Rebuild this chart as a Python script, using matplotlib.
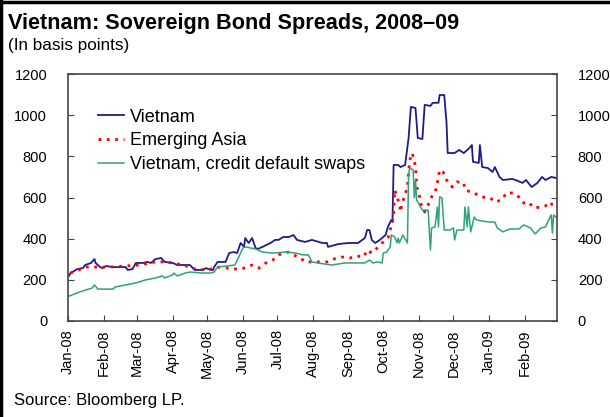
import matplotlib
matplotlib.use("Agg")
import matplotlib.pyplot as plt
import matplotlib.dates as mdates
from matplotlib.lines import Line2D
import pandas as pd

plt.rcParams['font.family'] = ['Liberation Sans', 'DejaVu Sans']

# Vietnam sovereign bond spread (basis points)
vietnam_dates = [
    "2008-01-02", "2008-01-03", "2008-01-09", "2008-01-14", "2008-01-16", "2008-01-21",
    "2008-01-24", "2008-01-25", "2008-01-29", "2008-01-31", "2008-02-03", "2008-02-09",
    "2008-02-20", "2008-02-22", "2008-02-26", "2008-02-29", "2008-03-06", "2008-03-10",
    "2008-03-13", "2008-03-17", "2008-03-22", "2008-03-25", "2008-04-01", "2008-04-05",
    "2008-04-16", "2008-04-20", "2008-04-27", "2008-04-30", "2008-05-04", "2008-05-06",
    "2008-05-07", "2008-05-10", "2008-05-17", "2008-05-20", "2008-05-24", "2008-05-27",
    "2008-05-30", "2008-06-02", "2008-06-03", "2008-06-06", "2008-06-09", "2008-06-12",
    "2008-06-14", "2008-06-18", "2008-06-25", "2008-06-29", "2008-07-02", "2008-07-06",
    "2008-07-11", "2008-07-15", "2008-07-18", "2008-07-25", "2008-07-31", "2008-08-09",
    "2008-08-13", "2008-08-14", "2008-08-23", "2008-09-01", "2008-09-09", "2008-09-15",
    "2008-09-17", "2008-09-19", "2008-09-21", "2008-09-24", "2008-09-28", "2008-10-03",
    "2008-10-05", "2008-10-08", "2008-10-09", "2008-10-10", "2008-10-14", "2008-10-16",
    "2008-10-20", "2008-10-23", "2008-10-25", "2008-10-29", "2008-10-31", "2008-11-04",
    "2008-11-06", "2008-11-11", "2008-11-13", "2008-11-18", "2008-11-19", "2008-11-23",
    "2008-11-25", "2008-11-26", "2008-12-02", "2008-12-06", "2008-12-10", "2008-12-15",
    "2008-12-17", "2008-12-18", "2008-12-23", "2008-12-24", "2008-12-26", "2008-12-31",
    "2009-01-04", "2009-01-06", "2009-01-10", "2009-01-13", "2009-01-21", "2009-01-24",
    "2009-01-30", "2009-02-02", "2009-02-07", "2009-02-12", "2009-02-16", "2009-02-19",
    "2009-02-24", "2009-02-28",
]
vietnam = [
    220, 232, 252, 257, 272, 282,
    301, 282, 262, 257, 267, 262,
    262, 248, 252, 282, 282, 287,
    282, 301, 306, 287, 282, 272,
    272, 248, 248, 257, 248, 248,
    262, 287, 287, 330, 335, 330,
    379, 360, 403, 379, 403, 355,
    350, 360, 379, 394, 394, 408,
    408, 418, 394, 384, 394, 379,
    379, 360, 374, 379, 379, 403,
    442, 442, 394, 379, 394, 418,
    457, 491, 481, 758, 758, 748,
    758, 889, 1040, 1035, 889, 884,
    1050, 1045, 1060, 1060, 1098, 1098,
    962, 816, 816, 831, 816, 841,
    855, 773, 768, 855, 748, 743,
    724, 748, 700, 685, 690, 685,
    671, 685, 651, 671, 700, 685,
    700, 695,
]

# Emerging Asia sovereign spread
asia_dates = [
    "2008-01-03", "2008-01-17", "2008-01-25", "2008-02-06", "2008-03-03", "2008-03-17",
    "2008-03-23", "2008-04-01", "2008-04-10", "2008-04-23", "2008-05-04", "2008-05-11",
    "2008-05-27", "2008-06-02", "2008-06-09", "2008-06-15", "2008-06-21", "2008-06-27",
    "2008-07-02", "2008-07-10", "2008-07-15", "2008-07-21", "2008-07-25", "2008-08-01",
    "2008-08-07", "2008-08-13", "2008-08-19", "2008-08-26", "2008-09-02", "2008-09-08",
    "2008-09-14", "2008-09-17", "2008-09-21", "2008-09-24", "2008-09-30", "2008-10-05",
    "2008-10-07", "2008-10-09", "2008-10-10", "2008-10-11", "2008-10-13", "2008-10-15",
    "2008-10-16", "2008-10-17", "2008-10-22", "2008-10-24", "2008-10-26", "2008-10-28",
    "2008-10-29", "2008-10-30", "2008-10-31", "2008-11-02", "2008-11-03", "2008-11-06",
    "2008-11-09", "2008-11-12", "2008-11-15", "2008-11-17", "2008-11-19", "2008-11-22",
    "2008-11-25", "2008-11-30", "2008-12-04", "2008-12-10", "2008-12-11", "2008-12-16",
    "2008-12-19", "2008-12-25", "2009-01-02", "2009-01-06", "2009-01-12", "2009-01-16",
    "2009-01-22", "2009-01-28", "2009-01-31", "2009-02-04", "2009-02-09", "2009-02-15",
    "2009-02-19", "2009-02-23", "2009-02-25", "2009-02-28",
]
emerging_asia = [
    233, 262, 262, 262, 272, 287,
    287, 282, 272, 248, 252, 262,
    252, 257, 272, 257, 282, 296,
    321, 335, 321, 306, 287, 287,
    287, 287, 301, 311, 306, 316,
    311, 345, 330, 345, 379, 403,
    442, 481, 525, 637, 598, 573,
    530, 564, 651, 782, 816, 782,
    743, 671, 627, 598, 564, 530,
    564, 603, 622, 671, 734, 724,
    685, 651, 676, 671, 637, 627,
    622, 603, 598, 578, 588, 622,
    622, 598, 573, 578, 549, 554,
    559, 578, 564, 559,
]

# Vietnam credit default swaps
cds_dates = [
    "2008-01-02", "2008-01-11", "2008-01-16", "2008-01-22", "2008-01-24", "2008-01-27",
    "2008-02-09", "2008-02-11", "2008-02-20", "2008-02-29", "2008-03-08", "2008-03-17",
    "2008-03-23", "2008-03-25", "2008-04-01", "2008-04-02", "2008-04-05", "2008-04-12",
    "2008-04-16", "2008-04-27", "2008-05-04", "2008-05-07", "2008-05-10", "2008-05-25",
    "2008-05-28", "2008-06-01", "2008-06-03", "2008-06-12", "2008-06-18", "2008-06-27",
    "2008-07-08", "2008-07-17", "2008-07-23", "2008-07-28", "2008-07-31", "2008-08-05",
    "2008-08-17", "2008-08-29", "2008-09-09", "2008-09-15", "2008-09-19", "2008-09-22",
    "2008-09-26", "2008-09-30", "2008-10-01", "2008-10-04", "2008-10-07", "2008-10-08",
    "2008-10-11", "2008-10-13", "2008-10-14", "2008-10-15", "2008-10-18", "2008-10-22",
    "2008-10-23", "2008-10-24", "2008-10-27", "2008-10-28", "2008-10-29", "2008-10-30",
    "2008-11-04", "2008-11-09", "2008-11-11", "2008-11-12", "2008-11-15", "2008-11-17",
    "2008-11-18", "2008-11-19", "2008-11-21", "2008-11-23", "2008-11-28", "2008-12-01",
    "2008-12-02", "2008-12-04", "2008-12-10", "2008-12-11", "2008-12-13", "2008-12-14",
    "2008-12-16", "2008-12-19", "2008-12-21", "2008-12-31", "2009-01-06", "2009-01-08",
    "2009-01-13", "2009-01-19", "2009-01-27", "2009-01-31", "2009-02-06", "2009-02-10",
    "2009-02-15", "2009-02-19", "2009-02-23", "2009-02-24", "2009-02-25", "2009-02-26",
    "2009-02-28",
]
vietnam_cds = [
    121, 141, 150, 160, 175, 155,
    155, 165, 175, 185, 199, 209,
    219, 209, 224, 233, 219, 233,
    238, 233, 233, 238, 262, 272,
    306, 355, 360, 350, 335, 330,
    335, 330, 321, 321, 287, 282,
    272, 282, 282, 282, 296, 282,
    287, 282, 330, 335, 360, 418,
    408, 379, 403, 379, 418, 379,
    710, 743, 734, 598, 685, 588,
    539, 539, 345, 452, 457, 554,
    457, 603, 598, 442, 442, 452,
    394, 442, 442, 554, 457, 554,
    433, 505, 491, 481, 481, 452,
    433, 447, 447, 467, 452, 423,
    452, 457, 505, 515, 428, 515,
    505,
]

month_ticks = pd.date_range("2008-01-01", "2009-02-01", freq="MS")
y_ticks = [0, 200, 400, 600, 800, 1000, 1200]

fig = plt.figure(figsize=(6.10, 4.17), dpi=100)
ax = fig.add_axes([68 / 610, 1 - 321 / 417, 489 / 610, 247 / 417])

ax.plot(pd.to_datetime(vietnam_dates), vietnam, color="#1c1c8a", lw=1.3,
        label="Vietnam")
ax.plot(pd.to_datetime(asia_dates), emerging_asia, color="#ff0000", lw=2.0,
        linestyle=(0, (1, 2)), label="Emerging Asia")
ax.plot(pd.to_datetime(cds_dates), vietnam_cds, color="#2fa27a", lw=1.1,
        label="Vietnam, credit default swaps")

ax.set_xlim(pd.Timestamp("2008-01-01"), pd.Timestamp("2009-03-01"))
ax.set_ylim(0, 1200)
ax.set_xticks(month_ticks)
ax.xaxis.set_major_formatter(mdates.DateFormatter("%b-%y"))
ax.set_yticks(y_ticks)
ax.tick_params(axis="x", direction="in", length=4, labelsize=10.5, rotation=90,
               color="#444444", pad=6)
ax.tick_params(axis="y", direction="in", length=4, labelsize=10.5, left=True,
               right=True, labelleft=True, labelright=True, color="#444444",
               pad=15)
for spine in ax.spines.values():
    spine.set_color("#444444")
    spine.set_linewidth(1.2)

leg = ax.legend(loc="upper left", bbox_to_anchor=(0.062, 0.86), frameon=False,
                fontsize=13, handlelength=1.45, handletextpad=0.3,
                labelspacing=0.37, borderpad=0, borderaxespad=0)

fig.text(8 / 610, 1 - 29 / 417, "Vietnam: Sovereign Bond Spreads, 2008\u201309",
         fontsize=15.6, fontweight="bold", va="baseline", ha="left")
fig.text(8 / 610, 1 - 50 / 417, "(In basis points)", fontsize=12.3,
         va="baseline", ha="left")
fig.text(14 / 610, 1 - 405 / 417, "Source: Bloomberg LP.", fontsize=12,
         va="baseline", ha="left")

# frame lines along the top and left edge of the figure
fig.add_artist(Line2D([0, 1], [0.996, 0.996], transform=fig.transFigure,
                      color="black", lw=2.5))
fig.add_artist(Line2D([0.002, 0.002], [0, 1], transform=fig.transFigure,
                      color="black", lw=2.5))

fig.savefig("out.png", dpi=100)
